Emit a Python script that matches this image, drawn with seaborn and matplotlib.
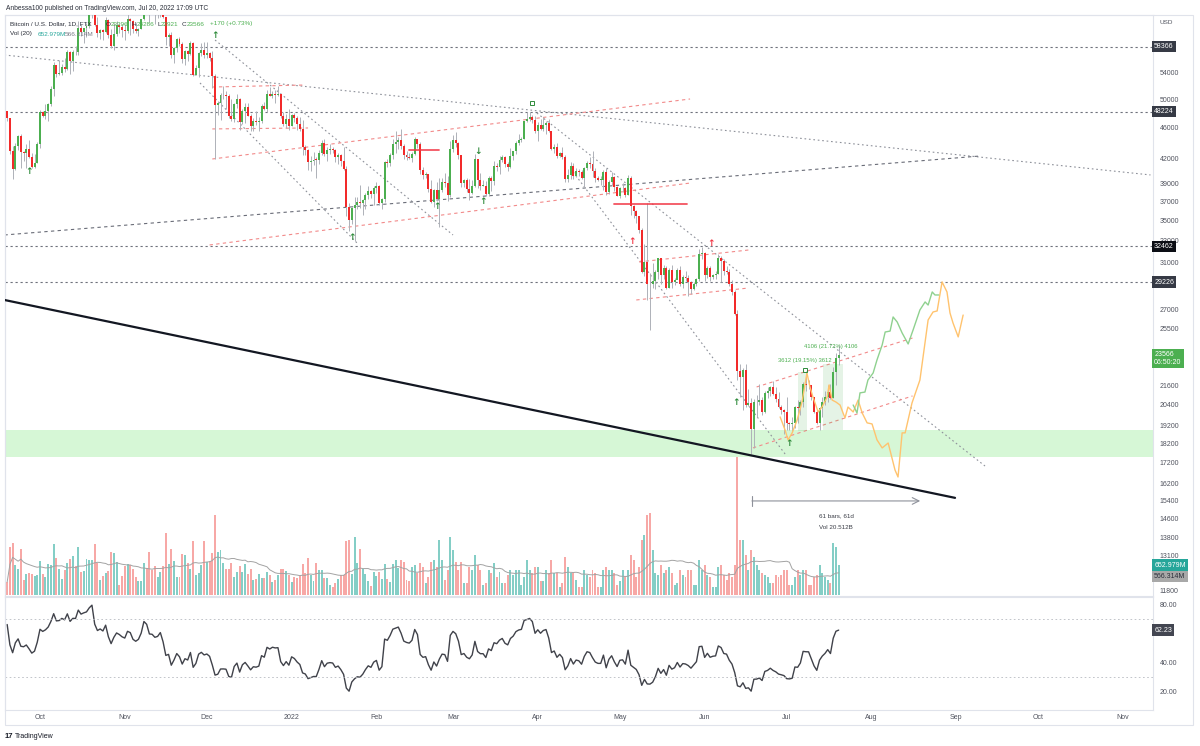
import pandas as pd
import numpy as np
import matplotlib
matplotlib.use('Agg')
import matplotlib.pyplot as plt
import matplotlib.transforms as mtransforms
import seaborn as sns

# Velas diarias Bitcoin / U.S. Dollar (FTX), del 19-09-2021 al 20-07-2022
fecha_inicio = '2021-09-19'

# cierres del 31-08 al 18-09, solo para calentar el RSI
cierre_previo = [47150, 48850, 49280, 49950, 49920, 51760, 52660, 46860, 46070, 46400,
                 44850, 45150, 46060, 44960, 47100, 48150, 47760, 47300, 48300]

cierre = [
    47260, 42900, 40700, 43600, 44900, 42840, 42700, 43200, 42200, 41030, 41500, 43800,
    48150, 47650, 48230, 49250, 51500, 55350, 53800, 53950, 54950, 54680, 57490, 56000, 57370, 57350, 61670, 60880,
    61550, 62040, 64280, 66000, 62210, 60690, 61300, 60850, 63080, 60330, 58450, 60600, 62250, 61860, 61300,
    61000, 63220, 62940, 61450, 61000, 61530, 63300, 67550, 66970, 64880, 64800, 64150, 64400, 65500, 63600,
    60100, 60350, 56900, 58120, 59700, 58730, 56300, 57570, 57150, 58960, 53730, 54720, 57270, 57800, 56950,
    57200, 56500, 53600, 49200, 49400, 50580, 50600, 50500, 47600, 47150, 49350, 50100, 46700, 48350, 48900,
    47650, 46200, 46850, 46700, 46900, 49000, 48600, 50800, 50400, 50800, 50650, 50700, 47550, 46450, 47150, 46200,
    47700, 47300, 46450, 45830, 43450, 43100, 41550, 41700, 41850, 41830, 42740, 43950, 42600, 43100, 43180,
    43100, 42250, 42400, 41700, 40700, 36470, 35100, 36280, 36700, 36960, 36850, 37200, 37750, 38200, 37900, 38500,
    38700, 36900, 37300, 41600, 41400, 42400, 43850, 44100, 44350, 43550, 42400, 42200, 42100, 42550,
    44550, 43900, 40600, 40000, 40100, 38400, 37000, 38250, 37250, 38350, 39200, 39100, 37700, 43200,
    44400, 43950, 42450, 39150, 39400, 38400, 37990, 38750, 41950, 39400, 38800, 38800, 37800, 39700, 39300,
    41150, 40950, 41800, 42200, 41300, 41000, 42370, 42900, 43960, 44350, 44500, 46850, 47130, 47450, 47070, 45530,
    46300, 45830, 46400, 46600, 45500, 43200, 43450, 42300, 42750, 42160, 39530, 40080, 41150, 39950, 40550,
    40400, 39700, 40800, 41500, 41370, 40500, 39700, 39450, 39450, 40430, 38120, 39240, 39740, 38600, 37630,
    38470, 38530, 37730, 39700, 36550, 36000, 35470, 34040, 30100, 31000, 29100, 29030, 29300, 30080, 31330,
    29850, 30430, 28700, 30300, 29200, 29430, 30280, 29100, 29650, 29550, 29200, 28600, 29020, 29450, 31730, 31800,
    29800, 30450, 29700, 29850, 29900, 31370, 31130, 30200, 30100, 29100, 28400, 26600, 22500, 22100, 22600,
    20400, 20470, 19000, 20550, 20570, 20700, 19970, 21100, 21230, 21500, 21030, 20730, 20250, 20100, 19930,
    19300, 19250, 19300, 20230, 20190, 20550, 21640, 21600, 21590, 20850, 19960, 19330, 20200, 20580, 20830,
    21190, 20790, 22430, 23396, 23566]

maximo = [
    48350, 47350, 43600, 44000, 44950, 45100, 42950, 43900, 44350, 42750, 42600, 44100,
    48450, 48350, 49250, 49500, 51900, 55750, 55300, 56100, 55450, 56500, 57800, 57650, 57700, 58500, 62900, 62300,
    61700, 62600, 64450, 67000, 66600, 63700, 61500, 61500, 63700, 63300, 61450, 62450, 62950, 62300, 62400,
    62400, 64250, 63500, 63100, 62600, 61600, 63300, 67800, 68500, 69000, 65600, 65450, 65000, 65550, 66300,
    63600, 60800, 60950, 58350, 59850, 60000, 59200, 57850, 57750, 59400, 59200, 55350, 57400, 58900, 59200,
    59100, 57400, 57600, 53900, 49700, 50900, 51900, 51200, 50800, 50100, 49450, 50800, 50200, 48650, 49500,
    49400, 47900, 47300, 48300, 47500, 49300, 49550, 51350, 51850, 51200, 51300, 52050, 50700, 48100, 47900, 48550,
    47900, 47950, 47550, 47500, 47050, 43750, 43150, 42300, 42800, 42250, 43100, 44300, 44450, 43450, 43800,
    43500, 43200, 42700, 42600, 43450, 41100, 36850, 36450, 37500, 37550, 38900, 37250, 38000, 38700, 38350, 38750,
    39250, 38850, 37400, 41700, 41900, 42650, 44500, 45500, 44800, 45800, 43900, 43000, 42750, 42850,
    44750, 44550, 44150, 40950, 40400, 40150, 39450, 38400, 39250, 39700, 39700, 40250, 39850, 44200,
    44950, 45400, 44100, 42500, 39600, 39650, 39550, 39400, 42550, 42000, 40250, 39450, 39300, 39850, 39900,
    41700, 41450, 42300, 42400, 42300, 41550, 43350, 42950, 44200, 45100, 44800, 46900, 48200, 48100, 47700, 47600,
    46700, 47200, 47450, 46900, 47200, 45500, 43900, 43950, 42800, 43400, 42400, 40700, 41550, 41500, 40850,
    40700, 40600, 40950, 41750, 42200, 42950, 40800, 39950, 39900, 40600, 40800, 39450, 40350, 39950, 38800,
    38650, 39150, 38650, 40000, 39850, 36650, 36150, 35500, 34300, 32650, 36850, 30050, 30950, 30300, 31400,
    31300, 30750, 30650, 30500, 30750, 29600, 30450, 30650, 29850, 30200, 29850, 29350, 29200, 29550, 32200, 32350,
    31950, 30650, 30650, 29950, 30150, 31750, 31550, 31300, 30650, 30350, 29400, 28550, 26900, 23000, 22700,
    22950, 21350, 20800, 20750, 21000, 21650, 20850, 21200, 21500, 21550, 21850, 21500, 21150, 20400, 20150,
    20850, 19400, 19650, 20300, 20700, 20650, 21800, 22500, 21950, 21600, 20850, 20050, 20250, 20850, 21200,
    21600, 21650, 22750, 23750, 24286]

minimo = [
    46900, 42550, 39600, 40600, 43100, 40900, 41700, 40800, 42100, 40900, 40800, 41450,
    43300, 47450, 47150, 46950, 49050, 50400, 53400, 53700, 53700, 54100, 54400, 53900, 54300, 56850, 56850, 60200,
    58950, 60100, 61650, 63500, 62000, 60000, 59700, 59550, 60700, 59850, 58100, 57800, 60200, 60750, 60050,
    59500, 60650, 60400, 60700, 60750, 60150, 61400, 63150, 66300, 62800, 64150, 62300, 63400, 63600, 63450,
    58600, 58400, 56500, 55600, 57400, 58500, 55600, 55300, 55900, 57000, 53600, 53650, 53400, 56800, 56400,
    56500, 55900, 51700, 42000, 47800, 47100, 50050, 48650, 47350, 46900, 46700, 48700, 45700, 46500, 46600,
    47600, 45500, 45600, 46400, 45600, 46650, 48400, 48100, 50400, 50200, 49500, 50450, 47350, 46150, 45950, 45700,
    46200, 46700, 45700, 45550, 42500, 42450, 40650, 40550, 41250, 39650, 41300, 42500, 42350, 41750, 42600,
    42650, 41550, 41300, 41150, 40600, 35500, 34000, 34650, 32950, 36250, 36300, 35550, 36200, 37350, 37400, 36650,
    38000, 36600, 36250, 36950, 40950, 41100, 41900, 42700, 43150, 43200, 42000, 41800, 41900, 41600,
    42450, 43350, 40100, 39500, 39650, 38050, 36850, 36400, 37050, 34350, 38050, 38600, 37050, 37500,
    42850, 43400, 41900, 38650, 38600, 38100, 37200, 37900, 38650, 38550, 38250, 38700, 37600, 37600, 38150,
    38900, 40550, 40150, 41550, 40950, 40500, 40900, 41850, 42600, 43650, 44100, 44450, 46700, 46950, 46600, 45250,
    44250, 45700, 45550, 45150, 45400, 43100, 42750, 42100, 42150, 41900, 39250, 39250, 39550, 39600, 39800,
    39950, 39550, 38550, 40600, 40850, 39750, 39200, 39300, 38900, 38250, 37750, 37900, 38900, 38200, 37600,
    37400, 38100, 37550, 37700, 35600, 35300, 34800, 33750, 30050, 29750, 27700, 25400, 28700, 28600, 29450,
    29100, 29450, 28650, 28700, 28750, 28950, 29450, 28900, 28700, 29350, 28050, 28250, 28550, 28850, 29300, 31250,
    29350, 29600, 29300, 29500, 29500, 29900, 29250, 29850, 29950, 28850, 28150, 26550, 21950, 20850, 20100,
    20250, 20300, 17650, 17950, 19650, 20350, 19800, 19900, 20800, 20900, 20950, 20550, 20200, 19850, 18700,
    18950, 18950, 18800, 19050, 19300, 19800, 20250, 21200, 21350, 20650, 19900, 19250, 18950, 19650, 20400,
    20550, 20750, 20800, 21600, 22921]

# volumen diario en millones de USD
volumen_m = [
    283, 1046, 1134, 654, 567, 1003, 327, 458, 480, 458, 414, 436,
    741, 458, 392, 676, 654, 1112, 807, 567, 349, 545, 698, 785, 850, 632, 1046, 501, 523, 785, 763, 763,
    1112, 698, 327, 414, 480, 523, 937, 916, 719, 218, 414,
    632, 676, 654, 567, 392, 305, 305, 698, 589, 937, 545, 632, 392, 501, 632, 1352, 676, 1003, 741, 392,
    392, 894, 872, 698, 567, 1177, 436, 480, 654, 1177,
    719, 741, 916, 1744, 937, 981, 698, 567, 567, 698, 392, 501, 632, 501, 676, 458, 567, 327, 349, 458,
    371, 371, 501, 436, 283, 327, 436, 567, 567, 523, 436,
    283, 392, 371, 414, 676, 480, 807, 436, 305, 698, 545, 545, 371, 371, 218, 174, 262, 349, 436, 436,
    1177, 1199, 458, 1264, 698, 1003, 567, 458, 305, 196, 501,
    414, 501, 349, 676, 349, 283, 676, 763, 589,
    763, 719, 327, 305, 610, 654, 480, 698, 610, 262, 392, 719, 763, 610, 1199, 763, 327, 545, 1264,
    981, 719, 545, 719, 262, 262, 610, 545, 872, 654, 545, 218, 262, 545, 480, 698, 392, 501, 262, 262,
    436, 545, 436, 545, 545, 218, 392, 763, 545, 480, 610,
    610, 305, 305, 545, 480, 763, 480, 480, 174, 262, 828, 610, 480, 480, 327, 174, 174, 545, 436, 392,
    545, 480, 174, 174, 545, 610, 545, 545, 480, 218,
    305, 545, 392, 545, 872, 763, 392, 610, 1199, 1308, 1744, 1788, 981, 480, 436, 654, 480, 545, 610, 480,
    218, 262, 545, 436, 392, 545, 545, 218, 218, 763, 545,
    654, 436, 392, 174, 174, 610, 654, 436, 327, 480, 392, 654, 3052, 1199, 1199, 872, 545, 981, 828, 654,
    545, 480, 436, 392, 262, 262, 436, 392, 436, 545,
    545, 218, 218, 392, 545, 436, 545, 545, 218, 218, 392, 436, 654, 480, 392, 327, 262, 1134, 1046, 653]

# niveles horizontales y marcas del eje de precios
niveles = [58366, 48224, 32462, 29226]
ticks_precio = [54000, 50000, 46000, 42000, 39000, 37000, 35000, 33000, 31000, 27000, 25500,
                21600, 20400, 19200, 18200, 17200, 16200, 15400, 14600, 13800, 13100, 11800]
zona_verde = (17490, 18930)

# lineas de tendencia: (fecha1, precio1, fecha2, precio2)
lineas_punteadas = [
    ('2021-09-18', 56930, '2022-11-11', 40030),
    ('2021-12-04', 59490, '2022-03-01', 33560),
    ('2021-11-28 12:00', 52440, '2022-01-24 22:00', 32780),
    ('2022-03-31 16:00', 48010, '2022-09-11 12:00', 17030),
    ('2022-04-13 22:00', 40380, '2022-06-30 10:00', 17640),
]
linea_discontinua = ('2021-09-18', 33560, '2022-09-09 17:00', 42320)
linea_negra = ('2021-09-18', 27730, '2022-08-31 13:00', 15510)
lineas_rosas = [
    ('2021-12-03', 51820, '2022-01-06', 52130),
    ('2021-12-03', 45820, '2022-01-07', 45950),
    ('2021-12-03', 41950, '2022-05-26 16:00', 50030),
    ('2021-12-02', 32590, '2022-05-26 16:00', 39090),
    ('2022-05-08', 31010, '2022-06-17', 32110),
    ('2022-05-07', 27730, '2022-06-17', 28720),
    ('2022-06-20', 21480, '2022-08-16', 24800),
    ('2022-06-18 16:00', 17960, '2022-08-16', 20920),
]
lineas_rojas = [
    ('2022-02-13', 43070, '2022-02-24', 43070),
    ('2022-04-29', 36810, '2022-05-25 14:00', 36810),
]

# flechas y banderas
flechas_verdes = [('2021-09-27', 40380), ('2021-12-04', 60370), ('2022-01-23', 33360),
                  ('2022-02-23', 36540), ('2022-03-12', 36980), ('2022-06-12 12:00', 20550),
                  ('2022-07-02', 18220)]
flechas_verdes_abajo = [('2022-03-10', 42820)]
flechas_rojas = [('2022-05-05 12:00', 32880), ('2022-06-03 08:00', 32710)]
banderas = [('2022-03-30', 49440), ('2022-07-07 16:00', 22580)]

# rangos de precio medidos
rangos = [('2022-07-05', '2022-07-08 12:00', 18860, 22472),
          ('2022-07-14 10:00', '2022-07-21 16:00', 18904, 23010)]
rangos_texto = [('3612 (19.15%) 3612', '2022-07-07 16:00', 23210),
                ('4106 (21.72%) 4106', '2022-07-17', 24160)]

# medida de tiempo (61 barras)
medida = ('2022-06-18 07:00', '2022-08-18 19:00', 15370)
medida_texto = ['61 bars, 61d', 'Vol 20.512B']

# proyecciones: dias despues del 20-07-2022 y precio
naranja_dias = [-21.4, -19.6, -18.5, -17.0, -15.2, -13.4, -11.6, -10.5, -9.4, -7.5, -6.1, -4.2, -3.5,
                -2.4, -1.0, 0.5, 2.3, 3.4, 5.3, 7.1, 8.6, 10.4, 12.2, 14.0, 15.9, 18.1, 20.6, 21.7,
                23.2, 24.3, 26.8, 29.7, 32.7, 34.5, 36.0, 37.8, 39.6, 40.7, 41.8, 43.7, 45.5]
naranja_precio = [19670, 18930, 18390, 18770, 19490, 20550, 22380, 21480, 20850, 19960, 20250, 20850,
                  21610, 20670, 20550, 20370, 19610, 20250, 19960, 20670, 19900, 19330, 19270, 18390,
                  17960, 18220, 16830, 16490, 18770, 18770, 20490, 21920, 26150, 26770, 26850, 29240,
                  28390, 26690, 25920, 24880, 26530]
verde_dias = [5.3, 6.7, 7.8, 9.6, 10.7, 12.6, 14.0, 15.9, 17.0, 18.8, 19.9, 21.4, 23.2, 25.4, 27.2,
              29.7, 31.6, 32.7, 34.2, 35.2, 36.6]
verde_precio = [20370, 19900, 21110, 21160, 21920, 22380, 23250, 24300, 25240, 25310, 26380, 25990,
                25170, 24370, 25390, 26930, 27570, 27320, 28390, 28140, 28140]

rsi_ultimo = 62.23
vol_ultimo_texto = ['652.979M', '566.314M']

# ---------------------------------------------------------------
fechas = pd.date_range(fecha_inicio, periods=len(cierre), freq='D')
cierre_a = np.array(cierre, dtype=float)
apertura = np.concatenate([[cierre_previo[-1]], cierre_a[:-1]])
maximo_a = np.array(maximo, dtype=float)
minimo_a = np.array(minimo, dtype=float)
vol = np.array(volumen_m, dtype=float)
sube = cierre_a >= apertura

# RSI(14) de Wilder
serie = pd.Series(cierre_previo + cierre, dtype=float)
delta = serie.diff()
gan = delta.clip(lower=0).ewm(alpha=1 / 14, adjust=False).mean()
per = (-delta.clip(upper=0)).ewm(alpha=1 / 14, adjust=False).mean()
rsi = (100 - 100 / (1 + gan / per)).iloc[len(cierre_previo):].values
vol_ma = pd.Series(vol).rolling(20, min_periods=1).mean().values

sns.set_theme(style='white')
plt.rcParams['font.family'] = ['Liberation Sans', 'DejaVu Sans']

VERDE = '#4caf50'
ROJO = '#f22a2a'
GRIS_TXT = '#50535e'
BORDE = '#e0e3eb'

fig = plt.figure(figsize=(12, 7.46), dpi=100)
W, H = 1200, 746
ax = fig.add_axes([5 / W, 1 - 596 / H, 1148 / W, 581 / H])
ax_rsi = fig.add_axes([5 / W, 1 - 710 / H, 1148 / W, 113 / H], sharex=ax)
ax_vol = ax.twinx()
ax.set_zorder(ax_vol.get_zorder() + 1)
ax.patch.set_visible(False)

x0 = pd.Timestamp('2021-09-18 05:00')
x1 = pd.Timestamp('2022-11-11 22:00')
ax.set_xlim(x0, x1)

# volumen
col_vol = np.where(sube, '#84cec6', '#f7a8a6')
ax_vol.bar(fechas, vol, width=0.72, color=col_vol, linewidth=0)
sns.lineplot(x=fechas, y=vol_ma, ax=ax_vol, color='#a3a3a3', linewidth=0.7)
ax_vol.set_ylim(-21.8, 12644)
ax_vol.set_yticks([])
ax_vol.set_ylabel('')
ax_vol.set_xlabel('')
for s in ax_vol.spines.values():
    s.set_visible(False)

# precio
ax.set_yscale('log')
ax.set_ylim(11627, 64023)
ax.axhspan(zona_verde[0], zona_verde[1], color='#d6f7d6', zorder=1, lw=0)

for nv in niveles:
    ax.axhline(nv, color='#6f727c', lw=0.8, ls=(0, (2, 2.5)), zorder=2)

for d1, p1, d2, p2 in lineas_punteadas:
    ax.plot([pd.Timestamp(d1), pd.Timestamp(d2)], [p1, p2], color='#8e919a', lw=0.8,
            ls=(0, (1.5, 2.5)), zorder=2)
d1, p1, d2, p2 = linea_discontinua
ax.plot([pd.Timestamp(d1), pd.Timestamp(d2)], [p1, p2], color='#6a6d78', lw=0.8, ls=(0, (3, 3)), zorder=2)
for d1, p1, d2, p2 in lineas_rosas:
    ax.plot([pd.Timestamp(d1), pd.Timestamp(d2)], [p1, p2], color='#f28a8a', lw=0.8,
            ls=(0, (3, 3)), zorder=2)
d1, p1, d2, p2 = linea_negra
ax.plot([pd.Timestamp(d1), pd.Timestamp(d2)], [p1, p2], color='#131722', lw=1.6, zorder=5)
for d1, p1, d2, p2 in lineas_rojas:
    ax.plot([pd.Timestamp(d1), pd.Timestamp(d2)], [p1, p2], color='#f23645', lw=1.3, alpha=0.85, zorder=5)

for d1, d2, pa, pb in rangos:
    ax.fill_between([pd.Timestamp(d1), pd.Timestamp(d2)], pa, pb, color=VERDE, alpha=0.14, lw=0, zorder=2)
for txt, d, p in rangos_texto:
    ax.text(pd.Timestamp(d), p, txt, color=VERDE, fontsize=4.2, ha='center', va='center', zorder=7)

# velas
ax.vlines(fechas, minimo_a, maximo_a, color='#aeb1b8', lw=0.7, zorder=3)
cuerpo_base = np.minimum(apertura, cierre_a)
cuerpo_alto = np.maximum(np.abs(cierre_a - apertura), cierre_a * 0.0015)
ax.bar(fechas[sube], cuerpo_alto[sube], bottom=cuerpo_base[sube], width=0.72, color=VERDE, lw=0, zorder=4)
ax.bar(fechas[~sube], cuerpo_alto[~sube], bottom=cuerpo_base[~sube], width=0.72, color=ROJO, lw=0, zorder=4)

# proyecciones
fin = pd.Timestamp('2022-07-20')
sns.lineplot(x=[fin + pd.Timedelta(days=d) for d in naranja_dias], y=naranja_precio, ax=ax,
             color='#ffc36e', linewidth=1.0, sort=False, zorder=6)
sns.lineplot(x=[fin + pd.Timedelta(days=d) for d in verde_dias], y=verde_precio, ax=ax,
             color='#8fd18f', linewidth=1.0, sort=False, zorder=6)

# flechas
for d, p in flechas_verdes:
    ax.text(pd.Timestamp(d), p, '\u2191', color='#2e8b3a', fontsize=6.5, fontweight='bold',
            family='DejaVu Sans', ha='center', va='center', zorder=8)
for d, p in flechas_verdes_abajo:
    ax.text(pd.Timestamp(d), p, '\u2193', color='#2e8b3a', fontsize=6.5, fontweight='bold',
            family='DejaVu Sans', ha='center', va='center', zorder=8)
for d, p in flechas_rojas:
    ax.text(pd.Timestamp(d), p, '\u2191', color='#f23645', fontsize=6.5, fontweight='bold',
            family='DejaVu Sans', ha='center', va='center', zorder=8)
for d, p in banderas:
    ax.plot(pd.Timestamp(d), p, marker='s', ms=3, mfc='none', mec='#2e8b3a', mew=0.7, zorder=8)

# medida
ma, mb, mp = medida
ax.annotate('', xy=(pd.Timestamp(mb), mp), xytext=(pd.Timestamp(ma), mp),
            arrowprops=dict(arrowstyle='->', color='#8e919a', lw=0.8, shrinkA=0, shrinkB=0), zorder=7)
ax.plot([pd.Timestamp(ma)] * 2, [mp * 0.985, mp * 1.015], color='#8e919a', lw=0.8, zorder=7)
mc = pd.Timestamp(ma) + (pd.Timestamp(mb) - pd.Timestamp(ma)) / 2
ax.annotate(medida_texto[0], xy=(mc, mp), xytext=(0, -11), textcoords='offset points',
            fontsize=4.5, color='#3a3d46', ha='center', va='center')
ax.annotate(medida_texto[1], xy=(mc, mp), xytext=(0, -19), textcoords='offset points',
            fontsize=4.5, color='#3a3d46', ha='center', va='center')

# eje de precios a la derecha
ax.yaxis.tick_right()
ax.set_yticks(ticks_precio)
ax.set_yticklabels([str(t) for t in ticks_precio])
ax.yaxis.set_minor_locator(plt.NullLocator())
ax.tick_params(axis='y', length=0, pad=5, labelsize=5, labelcolor=GRIS_TXT)
ax.tick_params(axis='x', length=0, labelbottom=False)
ax.set_ylabel('')
ax.set_xlabel('')

ty = ax.get_yaxis_transform()
for nv in niveles:
    fc = '#0c0e15' if nv == 32462 else '#363a45'
    ax.text(1.001, nv, str(nv), transform=ty, fontsize=5, color='white', ha='left', va='center',
            bbox=dict(boxstyle='square,pad=0.3', fc=fc, ec='none'), zorder=10, clip_on=False)
ax.annotate(f'{int(cierre[-1])}\n06:50:20', xy=(1.001, cierre_a[-1]), xycoords=ty, xytext=(0, 3),
            textcoords='offset points', fontsize=5, color='white', ha='left', va='top', linespacing=1.1,
            bbox=dict(boxstyle='square,pad=0.3', fc=VERDE, ec='none'), zorder=10, annotation_clip=False)

tv = mtransforms.blended_transform_factory(ax.transAxes, ax_vol.transData)
ax.text(1.001, vol[-1], vol_ultimo_texto[0], transform=tv, fontsize=5, color='white', ha='left',
        va='center', bbox=dict(boxstyle='square,pad=0.3', fc='#26a69a', ec='none'), zorder=10, clip_on=False)
ax.text(1.001, vol_ma[-1], vol_ultimo_texto[1], transform=tv, fontsize=5, color='#2a2e39', ha='left',
        va='top', bbox=dict(boxstyle='square,pad=0.3', fc='#a8a8a8', ec='none'), zorder=10, clip_on=False)

# RSI
sns.lineplot(x=fechas, y=rsi, ax=ax_rsi, color='#40424a', linewidth=1.0)
ax_rsi.axhline(70, color='#b8bbc2', lw=0.6, ls=(0, (2, 3)))
ax_rsi.axhline(30, color='#b8bbc2', lw=0.6, ls=(0, (2, 3)))
ax_rsi.set_ylim(7.7, 84.8)
ax_rsi.yaxis.tick_right()
ax_rsi.set_yticks([20, 40, 80])
ax_rsi.set_yticklabels(['20.00', '40.00', '80.00'])
ax_rsi.tick_params(axis='y', length=0, pad=5, labelsize=5, labelcolor=GRIS_TXT)
ax_rsi.text(1.001, rsi_ultimo, f'{rsi_ultimo:.2f}', transform=ax_rsi.get_yaxis_transform(), fontsize=5,
            color='white', ha='left', va='center', bbox=dict(boxstyle='square,pad=0.3', fc='#434651', ec='none'),
            zorder=10, clip_on=False)
ax_rsi.set_ylabel('')
ax_rsi.set_xlabel('')

meses = pd.date_range('2021-10-01', '2022-11-01', freq='MS')
ax_rsi.set_xticks(meses)
ax_rsi.set_xticklabels(['2022' if m.month == 1 else m.strftime('%b') for m in meses])
ax_rsi.tick_params(axis='x', length=0, pad=3, labelsize=5, labelcolor=GRIS_TXT)
ax_rsi.set_xlim(x0, x1)

for a in (ax, ax_rsi):
    for s in a.spines.values():
        s.set_color(BORDE)
        s.set_linewidth(0.8)

# marco exterior
fig.add_artist(plt.Rectangle((5 / W, 1 - 725 / H), 1188 / W, 710 / H, transform=fig.transFigure,
                             fill=False, ec=BORDE, lw=0.8))

# cabecera
def fx(x):
    return x / W

def fy(y):
    return 1 - y / H

OSC = '#2a2e39'
fig.text(fx(6), fy(8), 'Anbessa100 published on TradingView.com, Jul 20, 2022 17:09 UTC',
         fontsize=4.8, color=OSC, va='center')
piezas = [('Bitcoin / U.S. Dollar, 1D, FTX', 10, OSC),
          ('O', 106, OSC), (f'{int(cierre[-2])}', 110.5, VERDE),
          ('H', 132, OSC), (f'{int(maximo[-1])}', 136.5, VERDE),
          ('L', 157, OSC), (f'{int(minimo[-1])}', 160.5, VERDE),
          ('C', 182, OSC), (f'{int(cierre[-1])}', 186.5, VERDE),
          (f'+{int(cierre[-1] - cierre[-2])} (+{(cierre[-1] / cierre[-2] - 1) * 100:.2f}%)', 210, VERDE)]
for t, x, c in piezas:
    fig.text(fx(x), fy(24), t, fontsize=4.6, color=c, va='center')
fig.text(fx(10), fy(34), 'Vol (20)', fontsize=4.6, color=OSC, va='center')
fig.text(fx(38), fy(34), vol_ultimo_texto[0], fontsize=4.6, color='#26a69a', va='center')
fig.text(fx(65), fy(34), vol_ultimo_texto[1], fontsize=4.6, color='#787b86', va='center')
fig.text(fx(1160), fy(23), 'USD', fontsize=4.6, color=GRIS_TXT, va='center')
fig.text(fx(5), fy(736), '17', fontsize=5.5, color='#131722', fontweight='bold', va='center')
fig.text(fx(15), fy(736), 'TradingView', fontsize=5, color='#131722', va='center')

fig.savefig('out.png', dpi=100)
